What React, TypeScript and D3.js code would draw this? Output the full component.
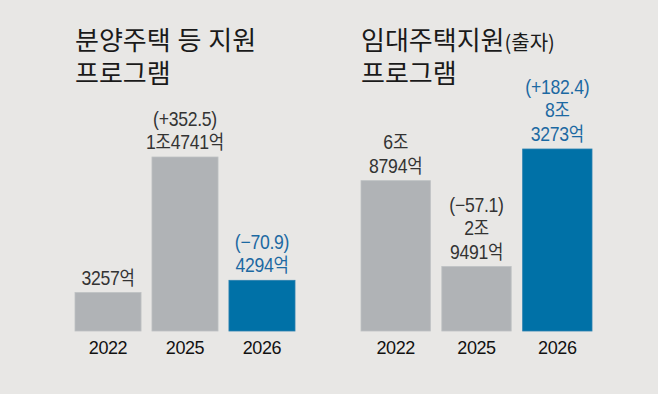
import * as d3 from "d3";

// 연도
const years = ["2022", "2025", "2026"];

// 분양주택 등 지원 프로그램 (억원)
const saleValues = [3257, 14741, 4294];
const saleLabels = [["3257억"], ["(+352.5)", "1조4741억"], ["(−70.9)", "4294억"]];

// 임대주택지원(출자) 프로그램 (억원)
const rentValues = [68794, 29491, 83273];
const rentLabels = [["6조", "8794억"], ["(−57.1)", "2조", "9491억"], ["(+182.4)", "8조", "3273억"]];

const W = 658;
const H = 394;
const BG = "#e8e7e5";
const GRAY = "#b0b3b6";
const BLUE = "#0071a7";
const BLUE_TXT = "#1c69a2";
const FONT = "'Noto Sans CJK KR', 'Noto Sans', sans-serif";
const NUM_FONT = "'Liberation Sans', 'Noto Sans CJK KR', sans-serif";
const BASE = 331;
const LINE = 23.5;

// 숫자와 한글을 나눠서 다른 글꼴로
function runs(s) {
  return s.match(/[\uAC00-\uD7A3]+|[^\uAC00-\uD7A3]+/g) || [];
}

function Panel({ values, labels, x0, x1, top, title, sub }) {
  const x = d3.scaleBand().domain(years).range([x0, x1]).paddingInner(0.142).paddingOuter(0);
  const y = d3.scaleLinear().domain([0, d3.max(values)]).range([BASE, top]);
  return (
    <g>
      <text y={50} fontSize={26} fontWeight={400} wordSpacing={1} fill="#1a1a1a" fontFamily={FONT}>
        <tspan x={x0}>{title}</tspan>
        {sub && <tspan fontSize={20}>{sub}</tspan>}
        <tspan x={x0} y={83}>
          프로그램
        </tspan>
      </text>
      {years.map((yr, i) => {
        const last = i === years.length - 1;
        const bx = x(yr);
        const by = y(values[i]);
        const cx = bx + x.bandwidth() / 2;
        const lines = labels[i];
        const firstY = by - 8 - (lines.length - 1) * LINE;
        return (
          <g key={yr}>
            <rect
              x={bx}
              y={by}
              width={x.bandwidth()}
              height={BASE - by}
              fill={last ? BLUE : GRAY}
              stroke={last ? "#2a80b0" : "#bec1c3"}
              strokeWidth={0.8}
            />
            <text
              transform={`translate(${cx},${firstY}) scale(0.88,1)`}
              textAnchor="middle"
              letterSpacing={-0.3}
              fill={last ? BLUE_TXT : "#333"}
            >
              {lines.map((t, j) => (
                <tspan key={j} x={0} y={j * LINE}>
                  {runs(t).map((r, k) =>
                    /[\uAC00-\uD7A3]/.test(r) ? (
                      <tspan key={k} fontFamily={FONT} fontSize={19}>
                        {r}
                      </tspan>
                    ) : (
                      <tspan key={k} fontFamily={NUM_FONT} fontSize={20}>
                        {r}
                      </tspan>
                    )
                  )}
                </tspan>
              ))}
            </text>
            <text
              x={cx}
              y={354}
              textAnchor="middle"
              fontSize={18}
              letterSpacing={-0.4}
              fill="#111"
              fontFamily={NUM_FONT}
            >
              {yr}
            </text>
          </g>
        );
      })}
    </g>
  );
}

export default function App() {
  return (
    <div style={{ position: "fixed", left: 0, top: 0 }}>
      <svg width={W} height={H} style={{ display: "block" }}>
        <rect width={W} height={H} fill={BG} />
        <Panel
          values={saleValues}
          labels={saleLabels}
          x0={75}
          x1={295}
          top={157}
          title="분양주택 등 지원"
        />
        <Panel
          values={rentValues}
          labels={rentLabels}
          x0={361}
          x1={592}
          top={149}
          title="임대주택지원"
          sub="(출자)"
        />
      </svg>
    </div>
  );
}
